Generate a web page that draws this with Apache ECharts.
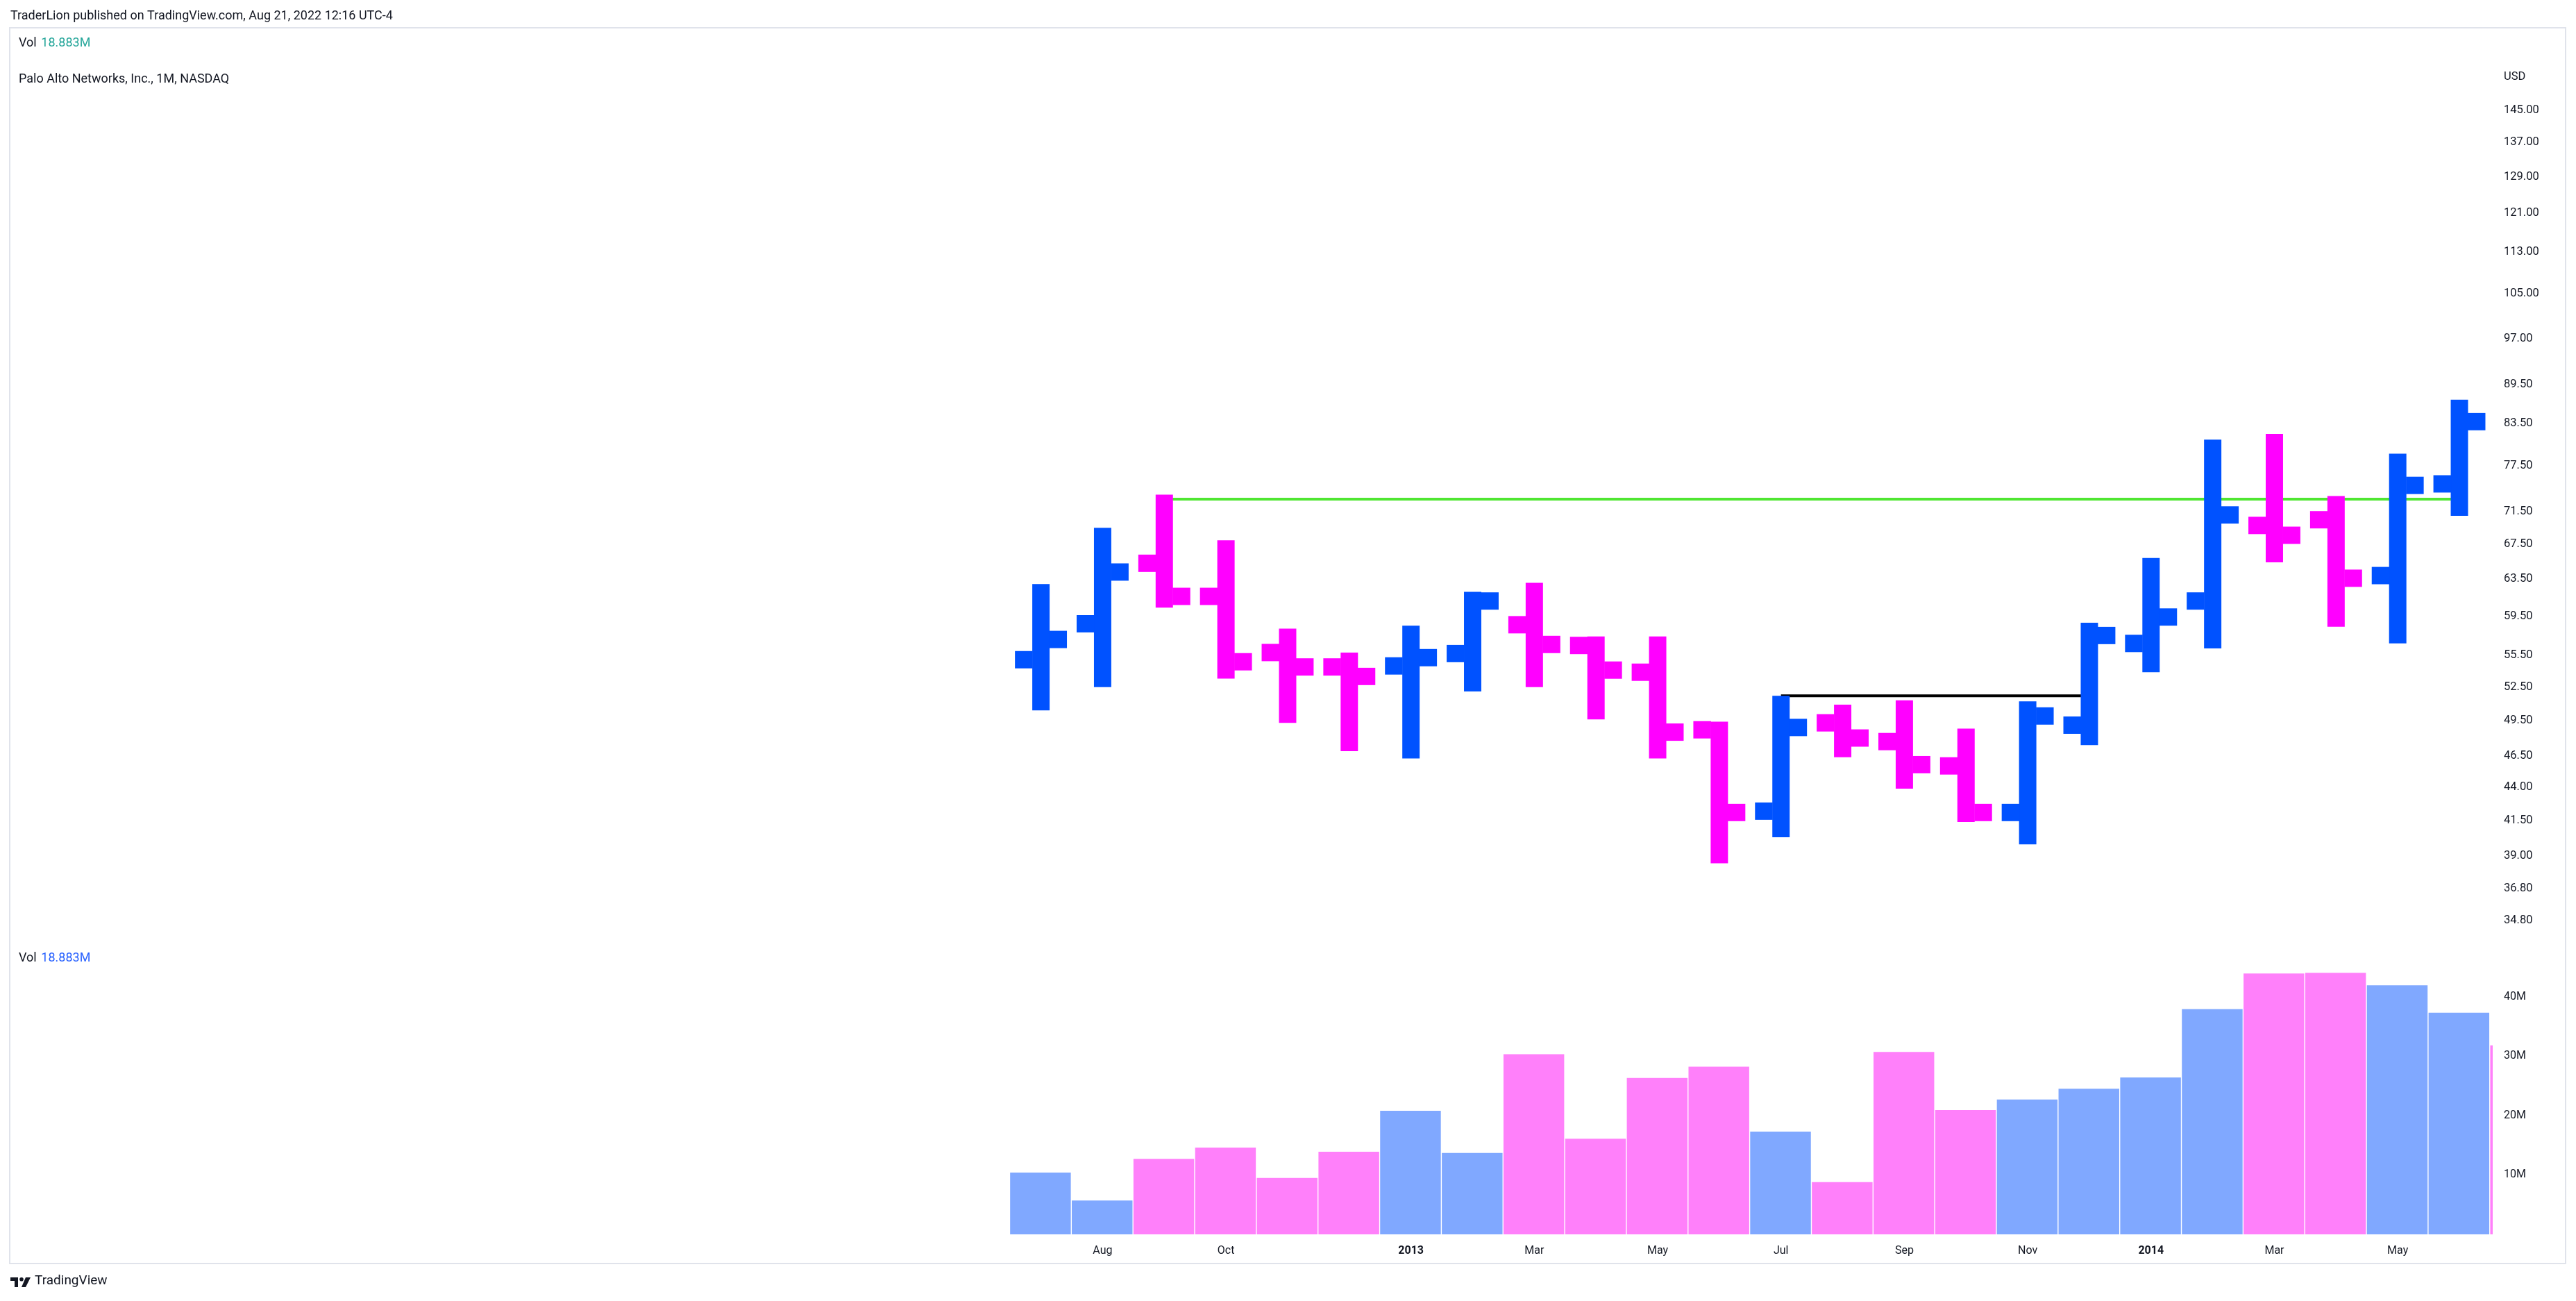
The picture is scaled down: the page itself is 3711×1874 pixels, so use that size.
<!DOCTYPE html>
<html>
<head>
<meta charset="utf-8">
<script src="https://cdn.jsdelivr.net/npm/echarts/dist/echarts.min.js"></script>
<style>
  html, body { margin: 0; padding: 0; background: #ffffff; }
  #chart { width: 3711px; height: 1874px; }
</style>
</head>
<body>
<div id="chart"></div>
<script>
// ---------------- DATA ----------------
const months = ['Jul 2012','Aug 2012','Sep 2012','Oct 2012','Nov 2012','Dec 2012',
                'Jan 2013','Feb 2013','Mar 2013','Apr 2013','May 2013','Jun 2013',
                'Jul 2013','Aug 2013','Sep 2013','Oct 2013','Nov 2013','Dec 2013',
                'Jan 2014','Feb 2014','Mar 2014','Apr 2014','May 2014','Jun 2014'];
const openPrices  = [55.1, 58.7, 65.3, 61.6, 55.8, 54.4, 54.5, 55.7, 58.6, 56.5, 53.9, 48.7,
                     42.2, 49.3, 47.7, 45.7, 42.1, 49.1, 56.7, 61.1, 69.8, 70.5, 63.9, 75.1];
const highPrices  = [62.95, 69.5, 73.7, 68.0, 58.2, 55.8, 58.5, 62.1, 63.1, 57.4, 57.4, 49.4,
                     51.7, 50.9, 51.3, 48.8, 51.2, 58.8, 65.9, 81.2, 82.0, 73.5, 79.2, 87.1];
const lowPrices   = [50.4, 52.5, 60.4, 53.3, 49.3, 46.9, 46.3, 52.1, 52.5, 49.6, 46.3, 38.5,
                     40.3, 46.4, 43.9, 41.4, 39.8, 47.4, 53.9, 56.2, 65.4, 58.4, 56.7, 71.0];
const closePrices = [57.1, 64.3, 61.6, 54.9, 54.4, 53.5, 55.3, 61.1, 56.6, 54.1, 48.5, 42.1,
                     48.9, 48.0, 45.8, 42.1, 49.9, 57.5, 59.4, 71.1, 68.6, 63.6, 74.9, 83.8];
// volume in millions (last value = Jul 2014, only a sliver visible at the right edge)
const volumeM = [10.4, 5.7, 12.7, 14.6, 9.5, 13.9, 20.8, 13.7, 30.3, 16.1, 26.3, 28.2,
                 17.3, 8.8, 30.7, 20.9, 22.7, 24.5, 26.4, 37.9, 43.9, 44.0, 41.9, 37.3, 31.8];
const partialBarUp = false;   // direction of the partly hidden Jul 2014 volume bar

const priceTicks = [145, 137, 129, 121, 113, 105, 97, 89.5, 83.5, 77.5, 71.5, 67.5, 63.5,
                    59.5, 55.5, 52.5, 49.5, 46.5, 44, 41.5, 39, 36.8, 34.8];
const volumeTicks = [10, 20, 30, 40];
const timeTickMonths = ['Aug 2012','Oct 2012','Jan 2013','Mar 2013','May 2013','Jul 2013',
                        'Sep 2013','Nov 2013','Jan 2014','Mar 2014','May 2014'];
const timeTickLabels = ['Aug','Oct','2013','Mar','May','Jul','Sep','Nov','2014','Mar','May'];

const resistanceLevel = 73.1;
const resistanceSpan = ['Sep 2012', 'Jun 2014'];
const baseLevel = 51.7;
const baseSpan = ['Jul 2013', 'Dec 2013'];

// ---------------- STYLE ----------------
const UP = '#0052FF', DOWN = '#FF00FF';
const VOL_UP = '#80A8FF', VOL_DOWN = '#FF80FA';
const TEXT = '#131722';
const FONT = 'Roboto, "Liberation Sans", sans-serif';

// ---------------- BUILD ----------------
const ohlcData = months.map((m, i) => [i, openPrices[i], highPrices[i], lowPrices[i], closePrices[i]]);
const volData = volumeM.map((v, i) => {
  const up = i < months.length ? closePrices[i] >= openPrices[i] : partialBarUp;
  return [i, v, up ? 1 : 0];
});
const timeTickIdx = timeTickMonths.map(m => months.indexOf(m));
const labelByIdx = {};
timeTickIdx.forEach((idx, k) => { labelByIdx[idx] = timeTickLabels[k]; });

const X_MIN = -16.71, X_MAX = 23.54;

function renderOHLC(params, api) {
  const i = api.value(0);
  const o = api.value(1), h = api.value(2), l = api.value(3), c = api.value(4);
  const pH = api.coord([i, h]);
  const x = pH[0];
  const slot = api.coord([i + 1, h])[0] - x;
  const w = slot * 0.281;
  const yH = pH[1], yL = api.coord([i, l])[1];
  const yO = api.coord([i, o])[1], yC = api.coord([i, c])[1];
  const color = c >= o ? UP : DOWN;
  return {
    type: 'group',
    children: [
      { type: 'rect', shape: { x: x - w / 2, y: yH, width: w, height: yL - yH }, style: { fill: color } },
      { type: 'rect', shape: { x: x - w / 2 - w, y: yO - w / 2, width: w + 0.5, height: w }, style: { fill: color } },
      { type: 'rect', shape: { x: x + w / 2 - 0.5, y: yC - w / 2, width: w + 0.5, height: w }, style: { fill: color } }
    ]
  };
}

function renderVolume(params, api) {
  const i = api.value(0), v = api.value(1), up = api.value(2);
  const p0 = api.coord([i - 0.5, v]);
  const p1 = api.coord([i + 0.5, 0]);
  const cs = params.coordSys;
  const shape = echarts.graphic.clipRectByRect(
    { x: p0[0], y: p0[1], width: p1[0] - p0[0] - 1.4, height: p1[1] - p0[1] },
    { x: cs.x, y: cs.y, width: cs.width, height: cs.height }
  );
  if (!shape) return null;
  return { type: 'rect', shape: shape, style: { fill: up ? VOL_UP : VOL_DOWN } };
}

const chart = echarts.init(document.getElementById('chart'), null, { renderer: 'canvas' });

const option = {
  animation: false,
  backgroundColor: '#ffffff',
  textStyle: { fontFamily: FONT },
  grid: [
    { left: 15, right: 120, top: 40, bottom: 1874 - 1355 },
    { left: 15, right: 120, top: 1360, bottom: 96 }
  ],
  xAxis: [
    { type: 'value', gridIndex: 0, min: X_MIN, max: X_MAX, show: false },
    {
      type: 'value', gridIndex: 1, min: X_MIN, max: X_MAX,
      axisLine: { show: false }, axisTick: { show: false }, splitLine: { show: false },
      axisLabel: {
        customValues: timeTickIdx,
        margin: 16,
        fontSize: 16,
        color: TEXT,
        fontFamily: FONT,
        formatter: function (v) {
          const t = labelByIdx[Math.round(v)] || '';
          return /^\d{4}$/.test(t) ? '{b|' + t + '}' : t;
        },
        rich: { b: { fontWeight: 'bold', fontSize: 16, color: TEXT, fontFamily: FONT } }
      }
    }
  ],
  yAxis: [
    {
      type: 'log', gridIndex: 0, position: 'right', logBase: 10,
      min: 33.59, max: 167.7,
      axisLine: { show: false }, axisTick: { show: false }, splitLine: { show: false },
      axisLabel: {
        customValues: priceTicks,
        margin: 16, fontSize: 16.5, color: TEXT, fontFamily: FONT,
        formatter: v => Number(v).toFixed(2)
      }
    },
    {
      type: 'value', gridIndex: 1, position: 'right', min: 0, max: 48.83,
      axisLine: { show: false }, axisTick: { show: false }, splitLine: { show: false },
      axisLabel: {
        customValues: volumeTicks,
        margin: 16, fontSize: 16, color: TEXT, fontFamily: FONT,
        formatter: v => v + 'M'
      }
    }
  ],
  series: [
    {
      type: 'line', xAxisIndex: 0, yAxisIndex: 0, z: 1,
      symbol: 'none', silent: true,
      data: [[months.indexOf(resistanceSpan[0]), resistanceLevel], [months.indexOf(resistanceSpan[1]), resistanceLevel]],
      lineStyle: { color: '#50E632', width: 4 }
    },
    {
      type: 'line', xAxisIndex: 0, yAxisIndex: 0, z: 1,
      symbol: 'none', silent: true,
      data: [[months.indexOf(baseSpan[0]), baseLevel], [months.indexOf(baseSpan[1]), baseLevel]],
      lineStyle: { color: '#000000', width: 4 }
    },
    {
      type: 'custom', xAxisIndex: 0, yAxisIndex: 0, z: 3,
      renderItem: renderOHLC,
      encode: { x: 0, y: [1, 2, 3, 4] },
      data: ohlcData
    },
    {
      type: 'custom', xAxisIndex: 1, yAxisIndex: 1, z: 3,
      renderItem: renderVolume,
      encode: { x: 0, y: 1 },
      data: volData
    }
  ],
  graphic: [
    { type: 'rect', z: 0, silent: true,
      shape: { x: 14, y: 40, width: 3682, height: 1780 },
      style: { fill: null, stroke: '#E0E3EB', lineWidth: 2 } },
    { type: 'text', left: 15, top: 14,
      style: { text: 'TraderLion published on TradingView.com, Aug 21, 2022 12:16 UTC-4',
               fill: TEXT, font: '18px ' + FONT } },
    { type: 'text', left: 27, top: 53,
      style: { text: '{a|Vol}  {v|18.883M}',
               rich: { a: { fill: TEXT, font: '18px ' + FONT }, v: { fill: '#26A69A', font: '18px ' + FONT } } } },
    { type: 'text', left: 27, top: 105,
      style: { text: 'Palo Alto Networks, Inc., 1M, NASDAQ', fill: TEXT, font: '18px ' + FONT } },
    { type: 'text', left: 3607, top: 102,
      style: { text: 'USD', fill: TEXT, font: '16.5px ' + FONT } },
    { type: 'text', left: 27, top: 1371,
      style: { text: '{a|Vol}  {v|18.883M}',
               rich: { a: { fill: TEXT, font: '18px ' + FONT }, v: { fill: '#2962FF', font: '18px ' + FONT } } } },
    // TradingView logo
    { type: 'group', left: 15, top: 1840, children: [
      { type: 'polygon', shape: { points: [[0,0],[11,0],[11,14],[6,14],[6,5],[0,5]] }, style: { fill: TEXT } },
      { type: 'circle', shape: { cx: 16, cy: 2.8, r: 2.8 }, style: { fill: TEXT } },
      { type: 'polygon', shape: { points: [[22,0],[29,0],[22,14],[16,14]] }, style: { fill: TEXT } }
    ] },
    { type: 'text', left: 50, top: 1836,
      style: { text: 'TradingView', fill: TEXT, font: '19px ' + FONT } }
  ]
};

chart.setOption(option);
</script>
</body>
</html>
